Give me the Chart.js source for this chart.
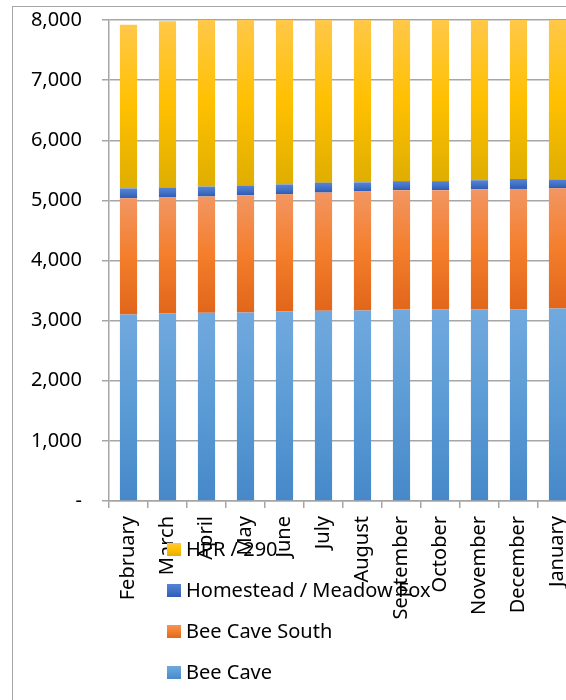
<!DOCTYPE html>
<html>
<head>
<meta charset="utf-8">
<script src="https://cdn.jsdelivr.net/npm/chart.js@4/dist/chart.umd.min.js"></script>
<style>
  html, body { margin: 0; padding: 0; background: #fff; overflow: hidden; }
  #wrap { position: relative; width: 566px; height: 700px; overflow: hidden; }
  #frame { position: absolute; left: 12px; top: 6px; width: 600px; height: 720px;
           border-left: 1.5px solid #a6a6a6; border-top: 1.5px solid #a6a6a6; }
  #chart { position: absolute; left: 0; top: 0; }
</style>
</head>
<body>
<div id="wrap">
  <div id="frame"></div>
  <canvas id="chart" width="580" height="700"></canvas>
</div>
<script>
var months = ['February', 'March', 'April', 'May', 'June', 'July', 'August',
              'September', 'October', 'November', 'December', 'January'];
var beeCave      = [3100, 3120, 3130, 3135, 3150, 3165, 3170, 3185, 3185, 3185, 3190, 3200];
var beeCaveSouth = [1935, 1930, 1935, 1950, 1950, 1965, 1980, 1985, 1985, 2000, 2000, 2000];
var homestead    = [165, 165, 165, 165, 165, 165, 150, 150, 150, 150, 165, 150];
var hpr290       = [2720, 2765, 2830, 2860, 2880, 2900, 2920, 2940, 2960, 2980, 3000, 3020];
var yTicks = [0, 1000, 2000, 3000, 4000, 5000, 6000, 7000, 8000];

var FONT = '"Noto Sans", sans-serif';
var FONT_SIZE = 20;

// light / base / dark stops for each series
var shades = {
  beeCave:      ['#71a9de', '#5b9bd5', '#4688c9'],
  beeCaveSouth: ['#f29662', '#f47e2c', '#e1661a'],
  homestead:    ['#5484da', '#4472c4', '#2d5bb5'],
  hpr290:       ['#ffc849', '#ffc000', '#dfae00']
};

function segmentFill(key) {
  var c = shades[key];
  return function (ctx) {
    if (ctx.type !== 'data') return c[1];
    var chart = ctx.chart, area = chart.chartArea, y = chart.scales.y;
    if (!area || !y) return c[1];
    var start = 0;
    for (var d = 0; d < ctx.datasetIndex; d++) {
      start += chart.data.datasets[d].data[ctx.dataIndex];
    }
    var end = start + chart.data.datasets[ctx.datasetIndex].data[ctx.dataIndex];
    var yBottom = y.getPixelForValue(start);
    var yTop = Math.max(y.getPixelForValue(end), area.top);
    if (!isFinite(yBottom) || !isFinite(yTop) || yBottom - yTop < 1) return c[1];
    var g = chart.ctx.createLinearGradient(0, yTop, 0, yBottom);
    g.addColorStop(0, c[0]);
    g.addColorStop(0.5, c[1]);
    g.addColorStop(1, c[2]);
    return g;
  };
}

// legend list drawn top-down, last series first
var legendList = {
  id: 'legendList',
  afterDraw: function (chart, args, opts) {
    var ctx = chart.ctx;
    var sets = chart.data.datasets.slice().reverse();
    ctx.save();
    ctx.font = FONT_SIZE + 'px ' + FONT;
    ctx.textBaseline = 'middle';
    ctx.textAlign = 'left';
    sets.forEach(function (ds, i) {
      var cy = opts.top + i * opts.step;
      var c = shades[ds.key];
      var g = ctx.createLinearGradient(0, cy - 7, 0, cy + 7);
      g.addColorStop(0, c[0]);
      g.addColorStop(0.5, c[1]);
      g.addColorStop(1, c[2]);
      ctx.fillStyle = g;
      ctx.fillRect(opts.left, cy - 6.5, 14, 13);
      ctx.fillStyle = '#000';
      ctx.fillText(ds.label, opts.left + 19, cy + 1);
    });
    ctx.restore();
  }
};

new Chart(document.getElementById('chart'), {
  type: 'bar',
  data: {
    labels: months,
    datasets: [
      { label: 'Bee Cave', key: 'beeCave', data: beeCave, backgroundColor: segmentFill('beeCave') },
      { label: 'Bee Cave South', key: 'beeCaveSouth', data: beeCaveSouth, backgroundColor: segmentFill('beeCaveSouth') },
      { label: 'Homestead / Meadow Fox', key: 'homestead', data: homestead, backgroundColor: segmentFill('homestead') },
      { label: 'HPR / 290', key: 'hpr290', data: hpr290, backgroundColor: segmentFill('hpr290') }
    ]
  },
  options: {
    responsive: false,
    animation: false,
    categoryPercentage: 1,
    barPercentage: 0.44,
    layout: { padding: { top: 20, right: 3, bottom: 0, left: 0 } },
    plugins: {
      legend: { display: false },
      tooltip: { enabled: false },
      legendList: { left: 167, top: 549.5, step: 41 }
    },
    scales: {
      x: {
        stacked: true,
        offset: true,
        grid: { display: true, drawOnChartArea: false, drawTicks: true, tickLength: 7, color: '#a6a6a6', lineWidth: 1.5 },
        border: { display: true, color: '#a6a6a6', width: 1.5 },
        ticks: {
          color: '#000',
          font: { family: FONT, size: FONT_SIZE },
          minRotation: 90, maxRotation: 90,
          autoSkip: false,
          padding: 8
        },
        afterFit: function (scale) {
          scale.height = 199;
          scale.paddingLeft = 0;
          scale.paddingRight = 0;
        }
      },
      y: {
        stacked: true,
        min: 0,
        max: 8000,
        afterBuildTicks: function (scale) {
          scale.ticks = yTicks.map(function (v) { return { value: v }; });
        },
        grid: { color: '#a6a6a6', lineWidth: 1.5, tickLength: 7, drawTicks: true },
        border: { display: true, color: '#a6a6a6', width: 1.5 },
        ticks: {
          color: '#000',
          font: { family: FONT, size: FONT_SIZE },
          padding: 20,
          callback: function (v) { return v === 0 ? '-' : v.toLocaleString('en-US'); }
        },
        afterFit: function (scale) {
          scale.width = 109;
          scale.paddingTop = 0;
          scale.paddingBottom = 0;
        }
      }
    }
  },
  plugins: [legendList]
});
</script>
</body>
</html>
